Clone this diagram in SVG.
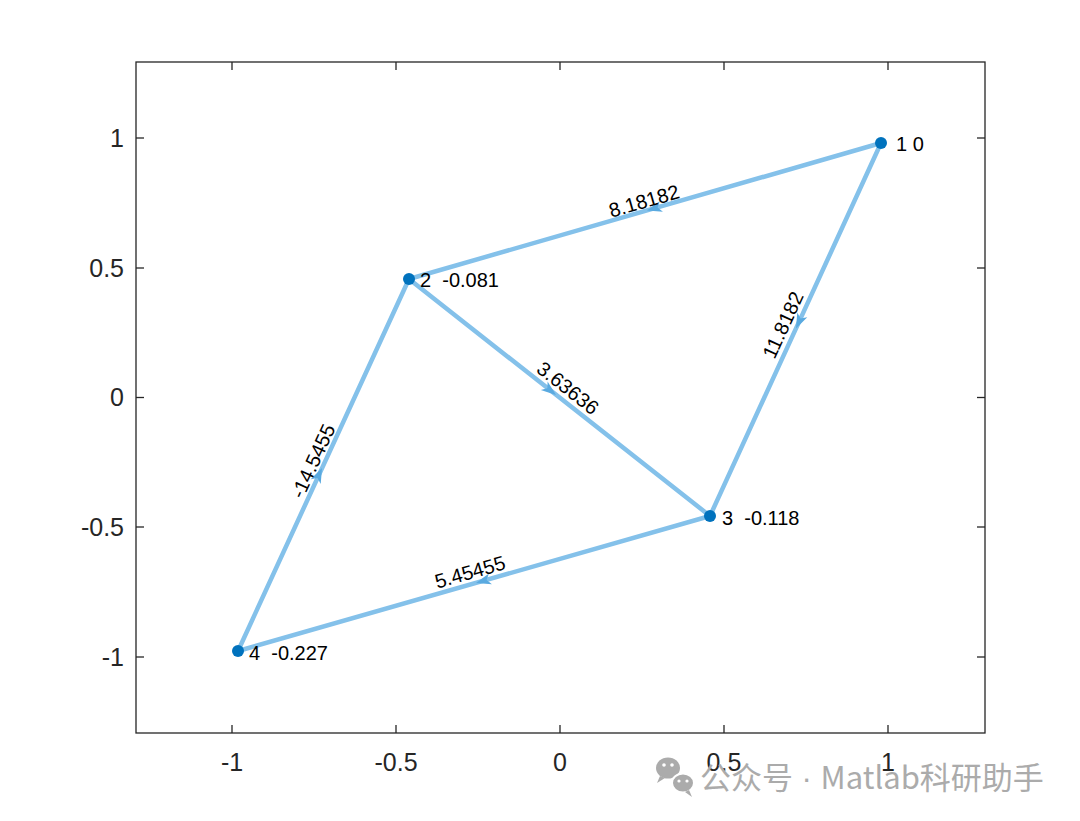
<svg xmlns="http://www.w3.org/2000/svg" width="1080" height="821" viewBox="0 0 1080 821">
<style>
.axis{fill:none;stroke:#262626;stroke-width:1.3}
.tick{stroke:#262626;stroke-width:1.3}
.tl{font-family:"Liberation Sans",Arial,sans-serif;font-size:25px;fill:#262626}
.edge{stroke:#84c1ea;stroke-width:4.5;stroke-linecap:round}
.arr{fill:#5aaae0}
.el{font-family:"Liberation Sans",Arial,sans-serif;font-size:20px;fill:#000;text-anchor:middle}
.nl{font-family:"Liberation Sans",Arial,sans-serif;font-size:20px;fill:#000;white-space:pre}
.node{fill:#0072bd}
.wm{font-family:"Noto Sans CJK SC","Noto Sans",sans-serif;font-size:31px;fill:#ababab}
</style>
<defs>
<path id="ah" d="M0,0 L-15,-5.5 L-11,0 L-15,5.5 Z"/>
</defs>
<rect width="1080" height="821" fill="#fff"/>
<g id="axes">
<rect class="axis" x="136" y="62" width="849" height="671"/>
<g class="tick">
<line x1="232" y1="733" x2="232" y2="725"/><line x1="396" y1="733" x2="396" y2="725"/><line x1="560" y1="733" x2="560" y2="725"/><line x1="724" y1="733" x2="724" y2="725"/><line x1="888" y1="733" x2="888" y2="725"/>
<line x1="232" y1="62" x2="232" y2="70"/><line x1="396" y1="62" x2="396" y2="70"/><line x1="560" y1="62" x2="560" y2="70"/><line x1="724" y1="62" x2="724" y2="70"/><line x1="888" y1="62" x2="888" y2="70"/>
<line x1="136" y1="138" x2="144" y2="138"/><line x1="136" y1="268" x2="144" y2="268"/><line x1="136" y1="397.5" x2="144" y2="397.5"/><line x1="136" y1="527" x2="144" y2="527"/><line x1="136" y1="657" x2="144" y2="657"/>
<line x1="985" y1="138" x2="977" y2="138"/><line x1="985" y1="268" x2="977" y2="268"/><line x1="985" y1="397.5" x2="977" y2="397.5"/><line x1="985" y1="527" x2="977" y2="527"/><line x1="985" y1="657" x2="977" y2="657"/>
</g>
<g class="tl" text-anchor="end">
<text x="124" y="147">1</text><text x="124" y="277">0.5</text><text x="124" y="406">0</text><text x="124" y="536">-0.5</text><text x="124" y="666">-1</text>
</g>
<g class="tl" text-anchor="middle">
<text x="232" y="771">-1</text><text x="396" y="771">-0.5</text><text x="560" y="771">0</text><text x="724" y="771">0.5</text><text x="888" y="771">1</text>
</g>
</g>
<g id="connectors">
<line class="edge" x1="881" y1="143" x2="409" y2="279"/>
<line class="edge" x1="881" y1="143" x2="710" y2="516"/>
<line class="edge" x1="409" y1="279" x2="710" y2="516"/>
<line class="edge" x1="238" y1="651" x2="409" y2="279"/>
<line class="edge" x1="710" y1="516" x2="238" y2="651"/>
<use href="#ah" class="arr" transform="translate(647,210.5) rotate(163.93)"/>
<use href="#ah" class="arr" transform="translate(796,328.5) rotate(114.63)"/>
<use href="#ah" class="arr" transform="translate(556,395) rotate(38.21)"/>
<use href="#ah" class="arr" transform="translate(322,468) rotate(-65.31)"/>
<use href="#ah" class="arr" transform="translate(476,583) rotate(164.04)"/>
<text class="el" transform="translate(644,201) rotate(-16.07)" y="7">8.18182</text>
<text class="el" transform="translate(783,325) rotate(-65.37)" y="7">11.8182</text>
<text class="el" transform="translate(568,388) rotate(38.21)" y="7">3.63636</text>
<text class="el" transform="translate(313,461) rotate(-65.31)" y="7">-14.5455</text>
<text class="el" transform="translate(470,572) rotate(-15.96)" y="7">5.45455</text>
</g>
<g id="node1"><circle class="node" cx="881" cy="143" r="6"/><text class="nl" x="896" y="151">1 0</text></g>
<g id="node2"><circle class="node" cx="409" cy="279" r="6"/><text class="nl" x="420" y="287">2  -0.081</text></g>
<g id="node3"><circle class="node" cx="710" cy="516" r="6"/><text class="nl" x="722" y="525">3  -0.118</text></g>
<g id="node4"><circle class="node" cx="238" cy="651" r="6"/><text class="nl" x="249" y="660">4  -0.227</text></g>
<g id="watermark">
<ellipse cx="668" cy="768" rx="12" ry="10.5" fill="#ababab"/>
<path d="M660,776 L657,783 L665,778 Z" fill="#ababab"/>
<ellipse cx="683" cy="783" rx="11" ry="9.5" fill="#ababab" stroke="#fff" stroke-width="2"/>
<path d="M689,790 L692,797 L685,792 Z" fill="#ababab"/>
<circle cx="664" cy="765" r="1.8" fill="#fff"/><circle cx="672" cy="765" r="1.8" fill="#fff"/>
<circle cx="679" cy="781" r="1.6" fill="#fff"/><circle cx="687" cy="781" r="1.6" fill="#fff"/>
<text class="wm" x="700" y="789">公众号<tspan font-family="'Liberation Sans',sans-serif"> · </tspan>Matlab科研助手</text>
</g>
</svg>
